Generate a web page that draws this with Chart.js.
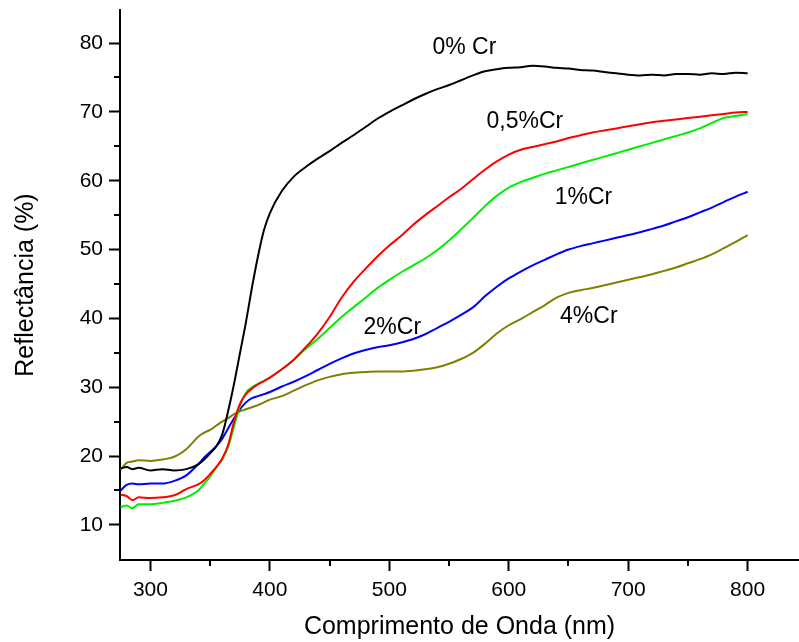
<!DOCTYPE html>
<html>
<head>
<meta charset="utf-8">
<script src="https://cdn.jsdelivr.net/npm/chart.js@4"></script>
<style>
  html, body { margin: 0; padding: 0; background: #fff; }
  canvas { display: block; }
</style>
</head>
<body>
<canvas id="chart" width="799" height="642"></canvas>
<script>
// wavelength (nm)
const wavelengths = [275, 280, 285, 290, 300, 310, 320, 330, 340, 345, 350, 355, 360, 365, 370, 375, 380, 385, 390, 395, 400,
    410, 420, 430, 440, 450, 460, 470, 480, 490, 500, 510, 520, 530, 540, 550, 560, 570, 580, 590, 600,
    610, 620, 630, 640, 650, 660, 670, 680, 690, 700, 710, 720, 730, 740, 750, 760, 770, 780, 790, 800];

// reflectance (%)
const cr0 = [18.2, 18.4, 18.1, 18.3, 17.9, 18.1, 17.9, 18.1, 18.8, 19.5, 20.4, 21.4, 23.1, 26.5, 30.5, 35.0, 39.5, 44.5, 49.0, 52.8, 55.3,
    58.5, 60.6, 62.0, 63.2, 64.3, 65.5, 66.6, 67.8, 69.0, 70.0, 70.9, 71.8, 72.6, 73.3, 73.9, 74.6, 75.3, 75.9, 76.2, 76.4,
    76.5, 76.7, 76.6, 76.4, 76.3, 76.1, 76.0, 75.8, 75.6, 75.4, 75.3, 75.4, 75.3, 75.5, 75.5, 75.4, 75.6, 75.5, 75.7, 75.6];

const cr05 = [14.4, 14.2, 13.6, 14.0, 13.9, 14.0, 14.3, 15.2, 15.9, 16.5, 17.4, 18.4, 19.6, 21.6, 25.0, 27.6, 29.0, 29.8, 30.4, 30.9, 31.4,
    32.6, 34.0, 35.8, 37.8, 40.2, 43.0, 45.3, 47.2, 49.0, 50.6, 52.0, 53.6, 55.0, 56.3, 57.6, 58.8, 60.2, 61.6, 62.8, 63.8,
    64.5, 64.9, 65.3, 65.7, 66.2, 66.6, 67.0, 67.3, 67.6, 67.9, 68.2, 68.5, 68.7, 68.9, 69.1, 69.3, 69.5, 69.7, 69.9, 70.0];

const cr1 = [12.6, 12.8, 12.4, 13.0, 13.0, 13.2, 13.5, 14.0, 15.0, 16.0, 17.0, 18.3, 19.5, 21.3, 24.3, 27.3, 29.2, 30.0, 30.5, 30.9, 31.4,
    32.6, 34.0, 35.6, 37.0, 38.6, 40.2, 41.6, 43.0, 44.4, 45.6, 46.7, 47.7, 48.7, 49.9, 51.3, 52.9, 54.6, 56.3, 57.8, 59.0,
    59.8, 60.4, 61.0, 61.5, 62.0, 62.5, 63.0, 63.5, 64.0, 64.5, 65.0, 65.5, 66.0, 66.5, 67.0, 67.6, 68.4, 69.1, 69.4, 69.7];

const cr2 = [15.0, 15.8, 16.0, 15.9, 16.0, 16.0, 16.4, 17.2, 18.8, 19.8, 20.6, 21.4, 22.5, 24.0, 25.5, 26.8, 27.8, 28.4, 28.7, 29.0, 29.3,
    30.1, 30.8, 31.6, 32.5, 33.4, 34.2, 34.9, 35.4, 35.8, 36.1, 36.5, 37.0, 37.7, 38.6, 39.5, 40.5, 41.6, 43.2, 44.6, 45.8,
    46.8, 47.7, 48.5, 49.3, 50.0, 50.5, 50.9, 51.3, 51.7, 52.1, 52.5, 53.0, 53.5, 54.1, 54.7, 55.4, 56.1, 56.9, 57.7, 58.4];

const cr4 = [18.0, 19.0, 19.2, 19.4, 19.3, 19.5, 19.9, 21.0, 22.8, 23.4, 23.8, 24.4, 25.0, 25.5, 26.1, 26.5, 26.8, 27.1, 27.4, 27.8, 28.2,
    28.7, 29.5, 30.3, 31.0, 31.5, 31.9, 32.1, 32.2, 32.3, 32.3, 32.3, 32.4, 32.6, 32.9, 33.4, 34.1, 35.0, 36.3, 37.8, 39.0,
    39.9, 40.9, 41.9, 43.0, 43.7, 44.1, 44.4, 44.8, 45.2, 45.6, 46.0, 46.4, 46.9, 47.4, 48.0, 48.6, 49.3, 50.2, 51.1, 52.1];

const seriesNames = ["0% Cr", "0,5%Cr", "1%Cr", "2%Cr", "4%Cr"];
const seriesColors = ["#000000", "#ff0000", "#00ee00", "#0000ff", "#808000"];

// text labels placed in data coordinates
const labelText = ["0% Cr", "0,5%Cr", "1%Cr", "2%Cr", "4%Cr"];
const labelX = [562.8, 613.5, 662.5, 502.5, 667];
const labelY = [79.3, 68.6, 57.5, 38.6, 40.2];

const xTicks = [300, 400, 500, 600, 700, 800];
const xMinor = [350, 450, 550, 650, 750];
const yTicks = [10, 20, 30, 40, 50, 60, 70, 80];
const yMinor = [15, 25, 35, 45, 55, 65, 75];

const FONT = "'Liberation Sans', Arial, sans-serif";

const toPoints = vals => vals.map((v, i) => ({ x: wavelengths[i], y: v }));

const minorTicks = {
    id: "minorTicks",
    afterDraw(chart) {
        const { ctx, scales: { x, y } } = chart;
        ctx.save();
        ctx.strokeStyle = "#000";
        ctx.lineWidth = 2;
        ctx.beginPath();
        xMinor.forEach(v => {
            const px = Math.round(x.getPixelForValue(v));
            ctx.moveTo(px, x.top);
            ctx.lineTo(px, x.top + 6);
        });
        yMinor.forEach(v => {
            const py = Math.round(y.getPixelForValue(v));
            ctx.moveTo(y.right, py);
            ctx.lineTo(y.right - 6, py);
        });
        ctx.stroke();
        ctx.restore();
    }
};

const curveLabels = {
    id: "curveLabels",
    afterDatasetsDraw(chart) {
        const { ctx, scales: { x, y } } = chart;
        ctx.save();
        ctx.fillStyle = "#000";
        ctx.font = "23px " + FONT;
        ctx.textAlign = "center";
        ctx.textBaseline = "middle";
        labelText.forEach((t, i) => {
            ctx.fillText(t, x.getPixelForValue(labelX[i]), y.getPixelForValue(labelY[i]));
        });
        ctx.restore();
    }
};

new Chart(document.getElementById("chart"), {
    type: "line",
    data: {
        datasets: seriesNames.map((name, i) => ({
            label: name,
            data: toPoints([cr0, cr05, cr1, cr2, cr4][i]),
            borderColor: seriesColors[i],
            borderWidth: 2,
            pointRadius: 0,
            cubicInterpolationMode: "monotone",
            fill: false
        }))
    },
    options: {
        responsive: false,
        animation: false,
        layout: { padding: { top: 10, right: 0, left: 0, bottom: 0 } },
        plugins: {
            legend: { display: false },
            tooltip: { enabled: false }
        },
        scales: {
            x: {
                type: "linear",
                min: 274.5,
                max: 843,
                afterBuildTicks: s => { s.ticks = xTicks.map(v => ({ value: v })); },
                afterFit: s => { s.height = 82; s.paddingLeft = 0; s.paddingRight = 0; },
                border: { color: "#000", width: 2 },
                grid: { drawOnChartArea: false, drawTicks: true, tickLength: 11, tickColor: "#000", tickWidth: 2 },
                ticks: { color: "#000", font: { family: FONT, size: 21 }, padding: 7, maxRotation: 0 },
                title: {
                    display: true,
                    text: "Comprimento de Onda (nm)",
                    color: "#000",
                    font: { family: FONT, size: 25 },
                    padding: { top: 0, bottom: 0 }
                }
            },
            y: {
                type: "linear",
                min: 4.9,
                max: 84.8,
                afterBuildTicks: s => { s.ticks = yTicks.map(v => ({ value: v })); },
                afterFit: s => { s.width = 120; s.paddingTop = 0; s.paddingBottom = 0; },
                border: { color: "#000", width: 2 },
                grid: { drawOnChartArea: false, drawTicks: true, tickLength: 11, tickColor: "#000", tickWidth: 2 },
                ticks: { color: "#000", font: { family: FONT, size: 21 }, padding: 6 },
                title: {
                    display: true,
                    text: "Reflectância (%)",
                    color: "#000",
                    font: { family: FONT, size: 25 },
                    padding: { top: 11, bottom: 0 }
                }
            }
        }
    },
    plugins: [minorTicks, curveLabels]
});
</script>
</body>
</html>
